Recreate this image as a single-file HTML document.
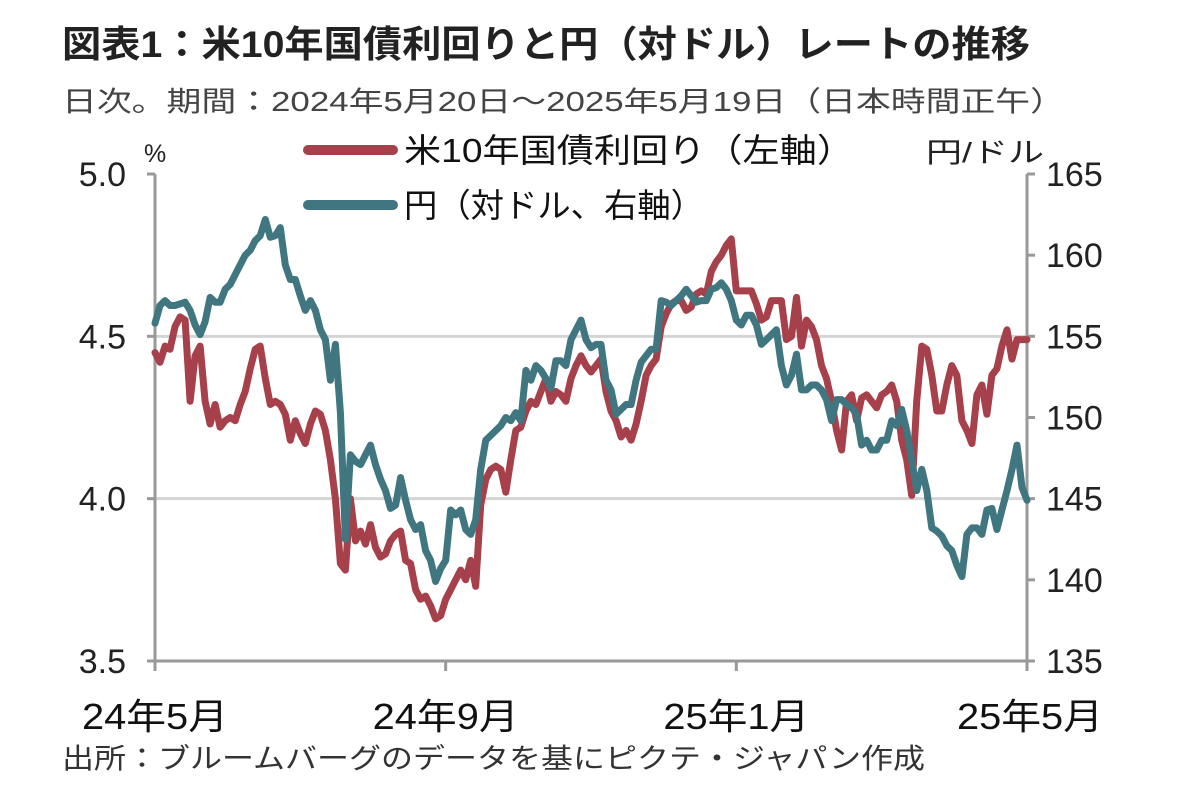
<!DOCTYPE html>
<html><head><meta charset="utf-8">
<style>
body{margin:0;background:#fff;width:1182px;height:795px;overflow:hidden;font-family:"Liberation Sans","Noto Sans CJK JP",sans-serif;}
svg{position:absolute;left:0;top:0}
</style></head>
<body>
<svg width="1182" height="795" viewBox="0 0 1182 795" font-family="'Liberation Sans','Noto Sans CJK JP',sans-serif">
<text x="62" y="57" font-size="37" font-weight="bold" fill="#222" textLength="968" lengthAdjust="spacingAndGlyphs">図表1：米10年国債利回りと円（対ドル）レートの推移</text>
<text x="62" y="111" font-size="28" fill="#444" textLength="1003" lengthAdjust="spacingAndGlyphs">日次。期間：2024年5月20日～2025年5月19日（日本時間正午）</text>
<text x="144" y="162" font-size="25" fill="#222">%</text>
<text x="926" y="162" font-size="28" fill="#222" textLength="118" lengthAdjust="spacingAndGlyphs">円/ドル</text>
<g id="grid"></g>
<g id="axes"></g>
<g id="series"></g>
<g>
<line x1="308" y1="150" x2="393" y2="150" stroke="#a6404a" stroke-width="10" stroke-linecap="round"/>
<text x="404" y="162" font-size="33" fill="#111" textLength="450" lengthAdjust="spacingAndGlyphs">米10年国債利回り（左軸）</text>
<line x1="308" y1="205" x2="393" y2="205" stroke="#3f7680" stroke-width="10" stroke-linecap="round"/>
<text x="404" y="217" font-size="33" fill="#111" textLength="300" lengthAdjust="spacingAndGlyphs">円（対ドル、右軸）</text>
</g>
<text x="62" y="768" font-size="28" fill="#333" textLength="863" lengthAdjust="spacingAndGlyphs">出所：ブルームバーグのデータを基にピクテ・ジャパン作成</text>
</svg>
<script>
const yieldValues=[4.45,4.42,4.47,4.46,4.53,4.56,4.55,4.30,4.44,4.47,4.30,4.23,4.29,4.22,4.24,4.25,4.24,4.29,4.33,4.40,4.46,4.47,4.37,4.29,4.30,4.29,4.26,4.18,4.24,4.20,4.17,4.23,4.27,4.26,4.21,4.12,4.00,3.80,3.78,4.00,3.87,3.90,3.86,3.92,3.85,3.82,3.83,3.87,3.89,3.90,3.81,3.80,3.72,3.69,3.70,3.67,3.63,3.64,3.69,3.72,3.75,3.78,3.75,3.81,3.73,3.98,4.06,4.09,4.10,4.09,4.02,4.12,4.21,4.22,4.27,4.30,4.29,4.33,4.37,4.30,4.33,4.32,4.30,4.37,4.41,4.44,4.41,4.39,4.41,4.43,4.33,4.27,4.24,4.19,4.21,4.18,4.23,4.30,4.38,4.41,4.43,4.53,4.57,4.60,4.61,4.61,4.58,4.59,4.63,4.64,4.63,4.70,4.73,4.75,4.78,4.80,4.64,4.64,4.64,4.64,4.60,4.55,4.56,4.61,4.61,4.61,4.49,4.50,4.62,4.47,4.55,4.53,4.49,4.41,4.37,4.30,4.21,4.15,4.30,4.32,4.24,4.31,4.32,4.30,4.28,4.32,4.33,4.35,4.30,4.18,4.12,4.01,4.30,4.47,4.46,4.38,4.27,4.27,4.35,4.41,4.38,4.24,4.21,4.17,4.32,4.35,4.26,4.38,4.40,4.47,4.52,4.43,4.49,4.49,4.49];
const yenValues=[155.8,156.9,157.2,156.9,156.9,157.0,157.1,156.6,155.7,155.1,155.9,157.4,157.1,157.1,157.9,158.2,158.8,159.4,160.0,160.3,160.9,161.2,162.2,161.1,161.2,161.7,159.4,158.5,158.5,157.5,156.6,157.2,156.6,155.4,154.8,152.3,154.5,150.3,142.5,147.7,147.3,147.1,147.7,148.3,147.1,146.2,145.5,144.4,144.6,146.3,144.9,143.7,143.1,143.4,141.8,141.2,139.9,140.7,141.2,144.3,144.0,144.3,143.1,142.8,143.7,146.8,148.6,148.9,149.2,149.5,150.0,149.8,150.3,149.8,152.9,152.3,153.2,152.9,152.4,151.8,153.5,153.5,153.2,154.8,155.4,156.0,154.8,154.3,154.5,154.5,152.3,151.7,150.2,150.5,150.8,150.8,152.3,153.4,153.8,154.2,154.2,157.2,157.1,156.9,157.2,157.5,157.9,157.5,157.1,157.2,157.2,157.9,158.0,158.3,157.9,157.2,156.0,155.7,156.3,156.3,155.7,154.5,154.8,155.1,155.4,153.2,152.0,152.6,153.9,151.7,151.7,152.0,152.0,151.7,151.1,149.8,151.1,151.1,150.8,150.6,150.2,148.3,148.6,148.0,148.0,148.6,148.6,149.8,149.5,150.5,149.2,147.4,145.5,146.8,145.5,143.2,143.0,142.7,142.1,141.8,140.9,140.2,142.8,143.2,143.2,142.8,144.3,144.4,143.1,144.3,145.5,146.8,148.3,145.7,144.9];
const leftTicks=[5.0,4.5,4.0,3.5];
const leftTickLabels=["5.0","4.5","4.0","3.5"];
const rightTicks=[165,160,155,150,145,140,135];
const xTickIdx=[0,58,116,174];
const xTickLabels=["24年5月","24年9月","25年1月","25年5月"];

const X0=155,X1=1027,Y0=174,Y1=661;
const N=yieldValues.length;
function xs(i){return X0+(X1-X0)*i/(N-1);}
function yL(v){return Y0+(5.0-v)/(5.0-3.5)*(Y1-Y0);}
function yR(v){return Y0+(165-v)/(165-135)*(Y1-Y0);}
const NS="http://www.w3.org/2000/svg";
function mk(tag,attrs,parent){const e=document.createElementNS(NS,tag);for(const k in attrs)e.setAttribute(k,attrs[k]);parent.appendChild(e);return e;}
const grid=document.getElementById('grid'),axes=document.getElementById('axes'),series=document.getElementById('series');
leftTicks.forEach((v,i)=>{
  if(v<5.0&&v>3.5){
    const g=mk('line',{x1:X0,x2:X1,y1:yL(v),y2:yL(v),stroke:'#d4d4d4','stroke-width':3},grid);
    
    
  }
  const t=mk('text',{x:126,y:yL(v)+12,'font-size':34,fill:'#222','text-anchor':'end'},axes);
  t.textContent=leftTickLabels[i];
  
  
  const tk=mk('line',{x1:X0-8,x2:X0,y1:yL(v),y2:yL(v),stroke:'#999','stroke-width':3},axes);
  
  
});
rightTicks.forEach(v=>{
  const t=mk('text',{x:1046,y:yR(v)+12,'font-size':34,fill:'#222'},axes);
  t.textContent=String(v);
  
  
  const tk=mk('line',{x1:X1,x2:X1+8,y1:yR(v),y2:yR(v),stroke:'#999','stroke-width':3},axes);
  
  
});
const la=mk('line',{x1:X0,x2:X0,y1:Y0,y2:Y1,stroke:'#999','stroke-width':3},axes);


const ra=mk('line',{x1:X1,x2:X1,y1:Y0,y2:Y1,stroke:'#999','stroke-width':3},axes);


const ba=mk('line',{x1:X0,x2:X1,y1:Y1,y2:Y1,stroke:'#999','stroke-width':3},axes);


xTickIdx.forEach((idx,i)=>{
  const tk=mk('line',{x1:xs(idx),x2:xs(idx),y1:Y1,y2:Y1+10,stroke:'#999','stroke-width':3},axes);
  
  
  const t=mk('text',{x:xs(idx)+(i===3?3:0)-73,y:729,'font-size':36,fill:'#111',textLength:146,lengthAdjust:'spacingAndGlyphs'},axes);
  t.textContent=xTickLabels[i];
  
  
});
function pathFor(vals,sc){return vals.map((v,i)=>(i?'L':'M')+xs(i).toFixed(1)+' '+sc(v).toFixed(1)).join(' ');}
const p1=mk('path',{d:pathFor(yieldValues,yL),fill:'none',stroke:'#a6404a','stroke-width':7,'stroke-linejoin':'round','stroke-linecap':'round'},series);


const p2=mk('path',{d:pathFor(yenValues,yR),fill:'none',stroke:'#3f7680','stroke-width':7,'stroke-linejoin':'round','stroke-linecap':'round'},series);


</script>
</body></html>
